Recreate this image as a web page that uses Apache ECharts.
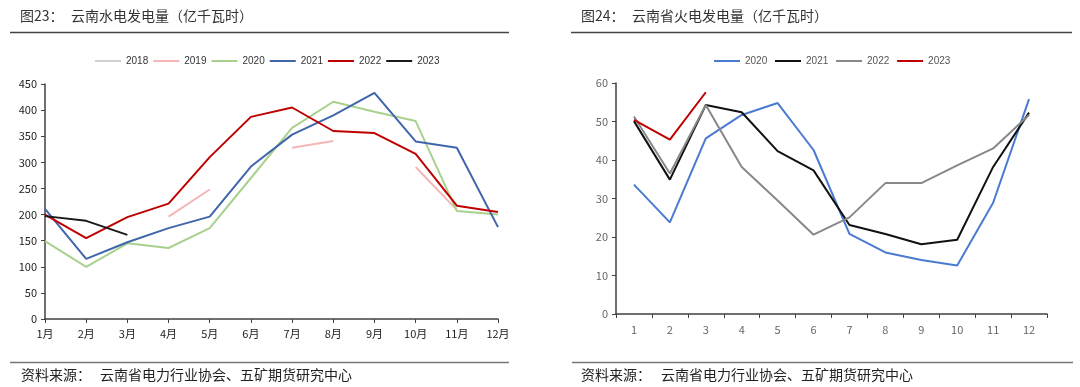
<!DOCTYPE html>
<html><head><meta charset="utf-8">
<script src="https://cdn.jsdelivr.net/npm/echarts@6/dist/echarts.min.js"></script>
<style>html,body{margin:0;padding:0;background:#fff}#c{width:1080px;height:387px}</style>
</head><body><div id="c"></div>
<script>
const monthsL = ['1月','2月','3月','4月','5月','6月','7月','8月','9月','10月','11月','12月'];
const monthsR = ['1','2','3','4','5','6','7','8','9','10','11','12'];
const hydro2018 = [null,null,null,null,null,null,null,null,null,null,null,null];
const hydro2019 = [null,null,null,196,248,null,328,341,null,291,209,null];
const hydro2020 = [149,100,145,136,174,270,366,416,397,379,207,200];
const hydro2021 = [211,115,147,174,196,292,353,390,433,340,328,176];
const hydro2022 = [200,155,195,221,310,387,405,360,356,316,217,205];
const hydro2023 = [197,188,161,null,null,null,null,null,null,null,null,null];
const thermal2020 = [33.6,23.8,45.6,51.7,54.8,42.6,20.8,16.0,14.0,12.6,28.9,55.8];
const thermal2021 = [50.1,34.9,54.3,52.4,42.3,37.3,23.1,20.8,18.1,19.3,38.2,52.3];
const thermal2022 = [51.3,36.5,54.3,38.2,29.5,20.6,25.1,34.0,34.0,38.6,43.0,51.7];
const thermal2023 = [50.4,45.3,57.6,null,null,null,null,null,null,null,null,null];

const FONT = '"Noto Sans CJK SC","Noto Sans",sans-serif';
function ln(name, data, color, xi) {
  return {name, type:'line', data, xAxisIndex:xi, yAxisIndex:xi, symbol:'none',
    connectNulls:false, lineStyle:{color, width:2}, itemStyle:{color}, animation:false};
}
function txt(x, y, s, size, fill) {
  return {type:'text', left:x, top:y, silent:true, style:{text:s, fontSize:size, fill, fontFamily:FONT}};
}
const chart = echarts.init(document.getElementById('c'));
chart.setOption({
  animation:false,
  textStyle:{fontFamily:FONT},
  legend:[
    {data:['2018','2019','2020','2021','2022','2023'], left:90, top:51, icon:'rect', itemWidth:26, itemHeight:2, itemGap:5,
     textStyle:{fontSize:10, color:'#333', fontFamily:'"Liberation Sans",sans-serif'}},
    {data:['2020 ','2021 ','2022 ','2023 '], left:709, top:51, icon:'rect', itemWidth:26, itemHeight:2, itemGap:5,
     textStyle:{fontSize:10, color:'#555', fontFamily:'"Liberation Sans",sans-serif'}}
  ],
  grid:[
    {left:45, top:84, width:453, height:235},
    {left:616, top:83, width:431, height:231}
  ],
  xAxis:[
    {type:'category', gridIndex:0, data:monthsL, boundaryGap:false,
     axisLine:{lineStyle:{color:'#404040', width:1.5}}, axisTick:{show:true, length:4, lineStyle:{color:'#404040'}},
     axisLabel:{color:'#222', fontSize:11, margin:9, fontFamily:FONT, interval:0}},
    {type:'category', gridIndex:1, data:monthsR, boundaryGap:true,
     axisLine:{lineStyle:{color:'#404040', width:1.5}}, axisTick:{show:true, length:4, lineStyle:{color:'#404040'}},
     axisLabel:{color:'#666', fontSize:11, margin:10, fontFamily:FONT, interval:0}}
  ],
  yAxis:[
    {type:'value', gridIndex:0, min:0, max:450, interval:50, splitLine:{show:false},
     axisLine:{show:true, lineStyle:{color:'#404040', width:1.5}}, axisTick:{show:true, length:4, lineStyle:{color:'#404040'}},
     axisLabel:{color:'#222', fontSize:11, margin:8, fontFamily:FONT}},
    {type:'value', gridIndex:1, min:0, max:60, interval:10, splitLine:{show:false},
     axisLine:{show:true, lineStyle:{color:'#404040', width:1.5}}, axisTick:{show:true, length:4, lineStyle:{color:'#404040'}},
     axisLabel:{color:'#666', fontSize:11, margin:8, fontFamily:FONT}}
  ],
  series:[
    ln('2018', hydro2018, '#d0d0d0', 0),
    ln('2019', hydro2019, '#f4b6b6', 0),
    ln('2020', hydro2020, '#a9d18e', 0),
    ln('2021', hydro2021, '#4065ab', 0),
    ln('2022', hydro2022, '#c00000', 0),
    ln('2023', hydro2023, '#1a1a1a', 0),
    ln('2020 ', thermal2020, '#4a7bd0', 1),
    ln('2021 ', thermal2021, '#111111', 1),
    ln('2022 ', thermal2022, '#888888', 1),
    ln('2023 ', thermal2023, '#c00000', 1)
  ],
  graphic:[
    {type:'line', shape:{x1:10, y1:32.5, x2:509, y2:32.5}, style:{stroke:'#444', lineWidth:1.5}, silent:true},
    {type:'line', shape:{x1:571, y1:32.5, x2:1072, y2:32.5}, style:{stroke:'#444', lineWidth:1.5}, silent:true},
    {type:'line', shape:{x1:10, y1:362.5, x2:509, y2:362.5}, style:{stroke:'#777', lineWidth:1.5}, silent:true},
    {type:'line', shape:{x1:572, y1:362.5, x2:1073, y2:362.5}, style:{stroke:'#777', lineWidth:1.5}, silent:true},
    txt(20, 9, '图23：', 14, '#333'),
    txt(71, 9, '云南水电发电量（亿千瓦时）', 14, '#333'),
    txt(581, 9, '图24：', 14, '#333'),
    txt(632, 9, '云南省火电发电量（亿千瓦时）', 14, '#333'),
    txt(21, 368, '资料来源：', 14, '#222'),
    txt(100, 368, '云南省电力行业协会、五矿期货研究中心', 14, '#222'),
    txt(581, 368, '资料来源：', 14, '#222'),
    txt(661, 368, '云南省电力行业协会、五矿期货研究中心', 14, '#222')
  ]
});
</script></body></html>
